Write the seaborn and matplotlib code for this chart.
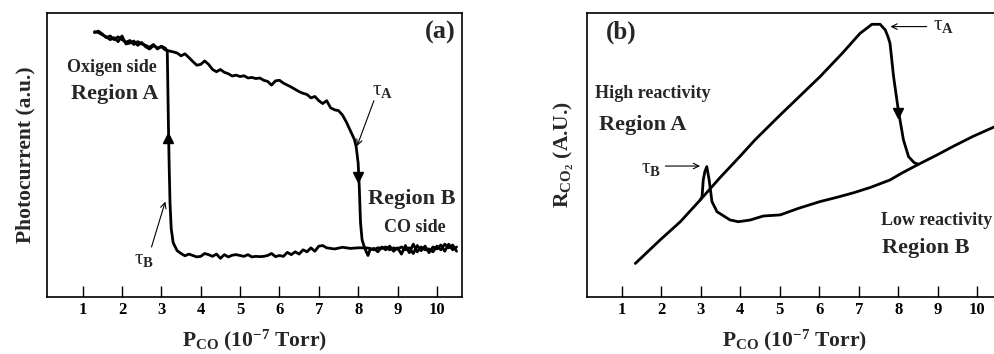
import numpy as np
import pandas as pd
import seaborn as sns
import matplotlib
matplotlib.use("Agg")
import matplotlib.pyplot as plt

# ---------------- data: panel (a) photocurrent hysteresis ----------------
fwd_x = [1.3, 1.4, 1.5, 1.6, 1.7, 1.8, 1.9, 2.0, 2.1, 2.2, 2.3, 2.4, 2.5, 2.6, 2.7, 2.8, 2.9, 3.0,
         3.1, 3.2, 3.3, 3.4, 3.5, 3.6, 3.7, 3.8, 3.9, 4.0, 4.1, 4.2, 4.3, 4.4, 4.5, 4.6, 4.7, 4.8,
         4.9, 5.0, 5.1, 5.2, 5.3, 5.4, 5.5, 5.6, 5.7, 5.8, 5.9, 6.0, 6.1, 6.2, 6.3, 6.4, 6.5, 6.6,
         6.7, 6.8, 6.9, 7.0, 7.1, 7.2, 7.3, 7.4, 7.5, 7.6, 7.7, 7.8, 7.9, 7.95, 8.0, 8.03, 8.06,
         8.1, 8.15, 8.2, 8.25, 8.3, 8.4, 8.5, 8.6, 8.7, 8.8, 8.9, 9.0, 9.1, 9.2, 9.3, 9.4, 9.5,
         9.6, 9.7, 9.8, 9.9, 10.0, 10.1, 10.2, 10.3, 10.4, 10.5]
fwd_y = [0.933, 0.930, 0.922, 0.915, 0.905, 0.912, 0.898, 0.918, 0.890, 0.893, 0.900, 0.885,
         0.895, 0.880, 0.872, 0.884, 0.876, 0.880, 0.869, 0.865, 0.862, 0.858, 0.848, 0.855,
         0.842, 0.828, 0.815, 0.818, 0.830, 0.818, 0.800, 0.792, 0.800, 0.790, 0.785, 0.777,
         0.780, 0.775, 0.778, 0.770, 0.772, 0.768, 0.770, 0.762, 0.758, 0.745, 0.760, 0.762,
         0.752, 0.745, 0.738, 0.730, 0.722, 0.716, 0.712, 0.700, 0.705, 0.690, 0.680, 0.690,
         0.665, 0.658, 0.655, 0.640, 0.615, 0.585, 0.555, 0.528, 0.470, 0.380, 0.260, 0.200,
         0.178, 0.160, 0.145, 0.165, 0.170, 0.158, 0.175, 0.165, 0.178, 0.160, 0.172, 0.150,
         0.180, 0.155, 0.185, 0.158, 0.175, 0.165, 0.168, 0.158, 0.178, 0.165, 0.185, 0.172,
         0.182, 0.160]

bwd_x = [10.5, 10.4, 10.3, 10.2, 10.1, 10.0, 9.9, 9.8, 9.7, 9.6, 9.5, 9.4, 9.3, 9.2, 9.1, 9.0,
         8.9, 8.8, 8.7, 8.6, 8.5, 8.4, 8.3, 8.2, 8.0, 7.8, 7.6, 7.4, 7.2, 7.1, 7.0, 6.9, 6.8,
         6.7, 6.6, 6.5, 6.4, 6.3, 6.2, 6.1, 6.0, 5.9, 5.8, 5.7, 5.6, 5.5, 5.4, 5.3, 5.2, 5.1,
         5.0, 4.9, 4.8, 4.7, 4.6, 4.5, 4.4, 4.3, 4.2, 4.1, 4.0, 3.9, 3.8, 3.7, 3.6, 3.5, 3.4,
         3.3, 3.25, 3.22, 3.2, 3.18, 3.16, 3.15, 3.1, 3.0, 2.9, 2.8, 2.7, 2.6, 2.5, 2.4, 2.3,
         2.2, 2.1, 2.0, 1.9, 1.8, 1.7, 1.6, 1.5, 1.4, 1.3]
bwd_y = [0.175, 0.165, 0.185, 0.160, 0.182, 0.168, 0.175, 0.155, 0.178, 0.162, 0.180, 0.152,
         0.172, 0.165, 0.175, 0.168, 0.172, 0.165, 0.175, 0.170, 0.172, 0.165, 0.170, 0.172,
         0.172, 0.170, 0.174, 0.168, 0.172, 0.180, 0.178, 0.160, 0.172, 0.158, 0.165, 0.150,
         0.158, 0.148, 0.156, 0.142, 0.145, 0.141, 0.152, 0.145, 0.142, 0.141, 0.142, 0.140,
         0.148, 0.142, 0.145, 0.148, 0.146, 0.140, 0.148, 0.135, 0.150, 0.142, 0.148, 0.152,
         0.142, 0.140, 0.145, 0.150, 0.144, 0.152, 0.162, 0.190, 0.240, 0.330, 0.450, 0.600,
         0.780, 0.865, 0.875, 0.882, 0.872, 0.888, 0.878, 0.885, 0.890, 0.898, 0.888, 0.902,
         0.896, 0.905, 0.915, 0.905, 0.918, 0.912, 0.925, 0.935, 0.930]

# ---------------- data: panel (b) CO2 reaction rate ----------------
high_x = [1.34, 1.97, 2.48, 2.98, 3.49, 3.99, 4.37, 5.01, 6.02, 6.60, 7.03, 7.20, 7.33, 7.45,
          7.54, 7.67, 7.74, 7.79, 7.88, 8.00, 8.13, 8.26, 8.40, 8.51]
high_y = [0.117, 0.200, 0.264, 0.340, 0.420, 0.494, 0.552, 0.640, 0.775, 0.860, 0.927, 0.945,
          0.959, 0.959, 0.959, 0.939, 0.915, 0.892, 0.775, 0.657, 0.552, 0.493, 0.472, 0.466]

low_x = [10.45, 9.90, 9.40, 8.98, 8.51, 8.10, 7.79, 7.30, 6.87, 6.45, 6.02, 5.47, 5.01, 4.58,
         4.25, 3.95, 3.74, 3.41, 3.28, 3.21, 3.15, 3.10, 3.06, 3.03, 2.98]
low_y = [0.599, 0.565, 0.530, 0.499, 0.466, 0.436, 0.411, 0.385, 0.366, 0.350, 0.335, 0.311,
         0.288, 0.284, 0.270, 0.264, 0.270, 0.299, 0.335, 0.411, 0.458, 0.440, 0.411, 0.352,
         0.340]

tick_vals = [1, 2, 3, 4, 5, 6, 7, 8, 9, 10]

# ---------------- styling ----------------
sns.set_style("white")
plt.rcParams["font.family"] = ["Liberation Serif", "DejaVu Serif"]
plt.rcParams["font.weight"] = "bold"
plt.rcParams["mathtext.fontset"] = "custom"
plt.rcParams["mathtext.rm"] = "Liberation Serif"
plt.rcParams["mathtext.it"] = "Liberation Serif:italic"
plt.rcParams["mathtext.bf"] = "Liberation Serif:bold"

fig = plt.figure(figsize=(9.95, 3.54), dpi=100)
ax1 = fig.add_axes([0.0469, 0.1619, 0.4171, 0.8023])
ax2 = fig.add_axes([0.5897, 0.1619, 0.4171, 0.8023])

lw = 2.0
dfa_f = pd.DataFrame({"x": fwd_x, "y": fwd_y})
dfa_b = pd.DataFrame({"x": bwd_x, "y": bwd_y})
sns.lineplot(data=dfa_f, x="x", y="y", sort=False, estimator=None, color="black", lw=lw, ax=ax1)
sns.lineplot(data=dfa_b, x="x", y="y", sort=False, estimator=None, color="black", lw=lw, ax=ax1)

dfb_h = pd.DataFrame({"x": high_x, "y": high_y})
dfb_l = pd.DataFrame({"x": low_x, "y": low_y})
sns.lineplot(data=dfb_h, x="x", y="y", sort=False, estimator=None, color="black", lw=lw, ax=ax2)
sns.lineplot(data=dfb_l, x="x", y="y", sort=False, estimator=None, color="black", lw=lw, ax=ax2)

xlabel = r"P$_\mathbf{CO}$ (10$^{\mathbf{-7}}$ Torr)"
for ax, xl in ((ax1, (0.086, 10.63)), (ax2, (0.11, 10.62))):
    ax.set_xlim(*xl)
    ax.set_ylim(0, 1)
    ax.set_yticks([])
    ax.set_xticks(tick_vals)
    ax.set_xticklabels([str(t) for t in tick_vals], fontweight="bold", fontsize=12)
    ax.tick_params(axis="x", direction="in", length=8, width=1.0, pad=4, bottom=True, colors="black")
    for s in ax.spines.values():
        s.set_visible(True)
        s.set_color("black")
        s.set_linewidth(1.2)
    ax.set_xlabel(xlabel, fontsize=15.5, fontweight="bold", labelpad=7)

ax1.set_ylabel("Photocurrent (a.u.)", fontsize=15.5, fontweight="bold", labelpad=8)
ax2.set_ylabel(r"R$_{\mathbf{CO_2}}$ (A.U.)", fontsize=15.5, fontweight="bold", labelpad=8)

tau_kw = dict(fontsize=15, fontweight="normal", ha="center", va="center")
arrow_kw = dict(arrowstyle="->", color="black", lw=0.8, shrinkA=0, shrinkB=0)

# ---------------- annotations panel (a) ----------------
ax1.text(0.985, 0.93, "(a)", transform=ax1.transAxes, ha="right", va="center", fontsize=19, fontweight="bold")
ax1.text(1.75, 0.808, "Oxigen side", ha="center", va="center", fontsize=13, fontweight="bold")
ax1.text(1.82, 0.712, "Region A", ha="center", va="center", fontsize=16, fontweight="bold")
ax1.text(9.36, 0.344, "Region B", ha="center", va="center", fontsize=16, fontweight="bold")
ax1.text(9.44, 0.242, "CO side", ha="center", va="center", fontsize=13, fontweight="bold")
ax1.text(8.62, 0.725, "τ$_\\mathrm{A}$", **tau_kw)
ax1.annotate("", xy=(7.97, 0.53), xytext=(8.4, 0.69), arrowprops=arrow_kw)
ax1.text(2.55, 0.13, "τ$_\\mathrm{B}$", **tau_kw)
ax1.annotate("", xy=(3.1, 0.335), xytext=(2.75, 0.175), arrowprops=arrow_kw)
ax1.plot([3.17], [0.56], marker="^", ms=7, color="black")
ax1.plot([8.0], [0.42], marker="v", ms=7, color="black")

# ---------------- annotations panel (b) ----------------
ax2.text(0.045, 0.93, "(b)", transform=ax2.transAxes, ha="left", va="center", fontsize=18, fontweight="bold")
ax2.text(1.79, 0.714, "High reactivity", ha="center", va="center", fontsize=13, fontweight="bold")
ax2.text(1.54, 0.605, "Region A", ha="center", va="center", fontsize=16, fontweight="bold")
ax2.text(8.97, 0.27, "Low reactivity", ha="center", va="center", fontsize=13, fontweight="bold")
ax2.text(8.69, 0.171, "Region B", ha="center", va="center", fontsize=16, fontweight="bold")
ax2.text(9.15, 0.955, "τ$_\\mathrm{A}$", **tau_kw)
ax2.annotate("", xy=(7.8, 0.951), xytext=(8.72, 0.951), arrowprops=arrow_kw)
ax2.text(1.74, 0.45, "τ$_\\mathrm{B}$", **tau_kw)
ax2.annotate("", xy=(2.98, 0.46), xytext=(2.1, 0.46), arrowprops=arrow_kw)
ax2.plot([8.0], [0.645], marker="v", ms=7, color="black")

fig.savefig("out.png", dpi=100)
